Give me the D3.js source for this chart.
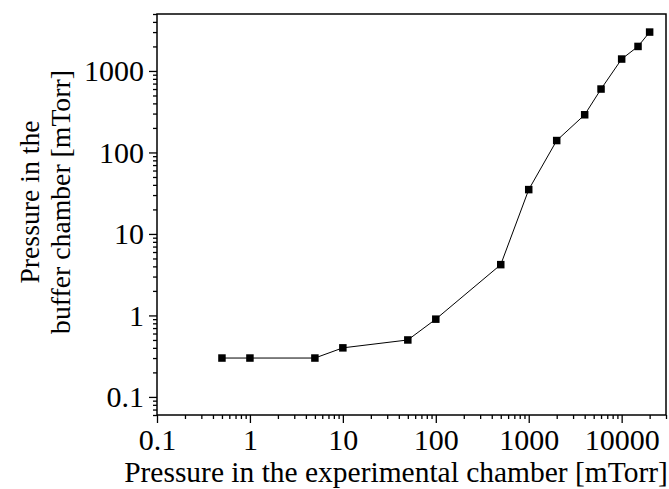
<!DOCTYPE html>
<html>
<head>
<meta charset="utf-8">
<script src="https://cdn.jsdelivr.net/npm/d3@7"></script>
<style>
  html, body { margin: 0; padding: 0; background: #fff; }
  svg { display: block; }
  svg text { font-family: "Liberation Serif", "Times New Roman", serif; fill: #000; }
</style>
</head>
<body>
<svg id="chart" width="669" height="489"></svg>
<script>
// Pressure readings (mTorr)
const experimentalPressure = [0.5, 1, 5, 10, 50, 100, 500, 1000, 2000, 4000, 6000, 10000, 15000, 20000];
const bufferPressure       = [0.3, 0.3, 0.3, 0.4, 0.5, 0.9, 4.2, 35, 140, 290, 600, 1400, 2000, 3000];

const xTickValues = [0.1, 1, 10, 100, 1000, 10000];
const yTickValues = [0.1, 1, 10, 100, 1000];
const xDomain = [0.1, 30000];
const yDomain = [0.06, 5000];

const xTitle = "Pressure in the experimental chamber [mTorr]";
const yTitleLines = ["Pressure in the", "buffer chamber [mTorr]"];

const plot = { left: 157, right: 666, top: 14, bottom: 415 };
const serif = '"Liberation Serif", "Times New Roman", serif';

const svg = d3.select("#chart");

const x = d3.scaleLog().domain(xDomain).range([plot.left, plot.right]);
const y = d3.scaleLog().domain(yDomain).range([plot.bottom, plot.top]);

// minor ticks: 2..9 times each power of ten inside the domain
function minorTicks(domain) {
  const out = [];
  const lo = Math.floor(Math.log10(domain[0])), hi = Math.ceil(Math.log10(domain[1]));
  for (let e = lo; e <= hi; e++) {
    for (let m = 2; m <= 9; m++) {
      const v = m * Math.pow(10, e);
      if (v >= domain[0] * 0.9999 && v <= domain[1] * 1.0001) out.push(v);
    }
  }
  return out;
}
const fmt = d => (d < 1 ? d3.format(".1f")(d) : d3.format("d")(d));

// x axis: minor + major ticks, pointing outward
svg.append("g").attr("transform", `translate(0,${plot.bottom})`)
  .call(d3.axisBottom(x).tickValues(minorTicks(xDomain)).tickSize(4).tickFormat(""))
  .call(g => g.select(".domain").remove());
const gx = svg.append("g").attr("transform", `translate(0,${plot.bottom})`)
  .call(d3.axisBottom(x).tickValues(xTickValues).tickSize(8).tickPadding(6).tickFormat(fmt))
  .call(g => g.select(".domain").remove());
gx.attr("font-family", serif).attr("font-size", 30);

// y axis
svg.append("g").attr("transform", `translate(${plot.left},0)`)
  .call(d3.axisLeft(y).tickValues(minorTicks(yDomain)).tickSize(4).tickFormat(""))
  .call(g => g.select(".domain").remove());
const gy = svg.append("g").attr("transform", `translate(${plot.left},0)`)
  .call(d3.axisLeft(y).tickValues(yTickValues).tickSize(8).tickPadding(5).tickFormat(fmt))
  .call(g => g.select(".domain").remove());
gy.attr("font-family", serif).attr("font-size", 30);

svg.selectAll(".tick line").attr("stroke", "#000").attr("stroke-width", 1.3);

// frame
svg.append("rect")
  .attr("x", plot.left).attr("y", plot.top)
  .attr("width", plot.right - plot.left).attr("height", plot.bottom - plot.top)
  .attr("fill", "none").attr("stroke", "#000").attr("stroke-width", 1.5);

// data line + square markers
const pts = experimentalPressure.map((v, i) => [v, bufferPressure[i]]);
svg.append("path")
  .datum(pts)
  .attr("fill", "none").attr("stroke", "#000").attr("stroke-width", 1)
  .attr("d", d3.line().x(d => x(d[0])).y(d => y(d[1])));

const ms = 7.5;
svg.append("g").selectAll("rect").data(pts).join("rect")
  .attr("x", d => x(d[0]) - ms / 2).attr("y", d => y(d[1]) - ms / 2)
  .attr("width", ms).attr("height", ms).attr("fill", "#000");

// axis titles, sized to their target widths
function fitText(sel, width, base) {
  sel.attr("font-size", base);
  const w = sel.node().getComputedTextLength();
  sel.attr("font-size", base * width / w);
}

const xt = svg.append("text")
  .attr("x", 396).attr("y", 482)
  .attr("text-anchor", "middle")
  .text(xTitle);
fitText(xt, 544, 29);

const yt = svg.append("g").attr("transform", "translate(0,202) rotate(-90)");
const yLines = yt.selectAll("text").data(yTitleLines).join("text")
  .attr("x", 0).attr("y", (d, i) => 39 + i * 31)
  .attr("text-anchor", "middle")
  .text(d => d);
// both lines share the size that makes the longer one span its target
const longer = yLines.filter((d, i) => i === 1);
fitText(longer, 264, 27);
yLines.attr("font-size", longer.attr("font-size"));
</script>
</body>
</html>
